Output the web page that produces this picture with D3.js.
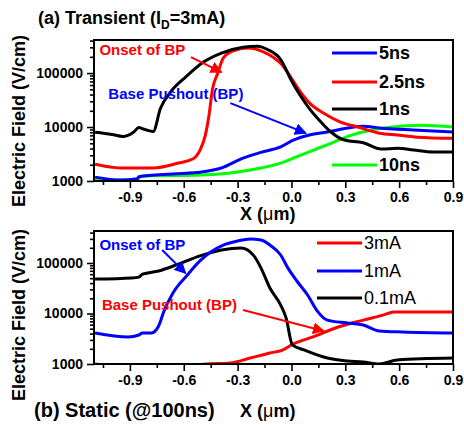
<!DOCTYPE html>
<html>
<head>
<meta charset="utf-8">
<script src="https://cdn.jsdelivr.net/npm/d3@7/dist/d3.min.js"></script>
<style>
  body { margin: 0; background: #fff; }
  text { font-family: Arial, "Liberation Sans", sans-serif; }
</style>
</head>
<body>
<svg id="chart" width="464" height="425"></svg>
<script>
// ---- data: [X (um), electric field (V/cm)] ----
var xTicks = [-0.9, -0.6, -0.3, 0.0, 0.3, 0.6, 0.9];
var xMinorTicks = [-1.05, -0.75, -0.45, -0.15, 0.15, 0.45, 0.75];
var yTicks = [1000, 10000, 100000];

// (a) transient, ID = 3mA
var transient5ns = [[-1.094,1180],[-0.95,1040],[-0.86,1100],[-0.85,1200],[-0.66,1350],[-0.5,1470],[-0.39,1740],[-0.27,2650],[-0.17,3400],[-0.06,4300],[0.01,5700],[0.1,7100],[0.2,8100],[0.33,9800],[0.4,10300],[0.49,9600],[0.68,8800],[0.9,8100]];
var transient2p5ns = [[-1.094,2050],[-1.0,1800],[-0.95,1740],[-0.77,1740],[-0.63,2150],[-0.55,2550],[-0.51,3700],[-0.48,7000],[-0.46,16000],[-0.44,50000],[-0.41,100000],[-0.38,190000],[-0.32,262000],[-0.24,290000],[-0.16,250000],[-0.1,195000],[-0.05,140000],[0.0,80000],[0.05,45000],[0.1,28000],[0.18,18000],[0.27,12500],[0.37,10000],[0.49,7700],[0.59,7100],[0.7,6500],[0.9,6200]];
var transient1ns = [[-1.094,8000],[-1.0,7300],[-0.94,6700],[-0.88,8000],[-0.85,9800],[-0.83,9300],[-0.77,8300],[-0.73,22000],[-0.67,46000],[-0.59,84000],[-0.49,160000],[-0.39,235000],[-0.27,300000],[-0.19,315000],[-0.13,270000],[-0.06,178000],[0.0,72000],[0.05,38000],[0.1,22000],[0.15,14000],[0.22,8100],[0.29,5800],[0.4,5100],[0.5,3900],[0.59,4050],[0.68,3750],[0.79,3450],[0.9,3450]];
var transient10ns = [[-1.094,1040],[-0.86,1040],[-0.84,1230],[-0.5,1290],[-0.34,1410],[-0.17,1740],[-0.06,2150],[0.01,2650],[0.12,3700],[0.22,5000],[0.33,7000],[0.44,8700],[0.55,9900],[0.72,10800],[0.9,10000]];

// (b) static @100ns
var static3mA = [[-1.094,1000],[-1.03,960],[-0.8,900],[-0.6,920],[-0.47,1000],[-0.34,1050],[-0.23,1310],[-0.12,1650],[-0.05,1890],[0.01,2490],[0.12,3430],[0.26,5400],[0.4,7400],[0.51,9300],[0.57,10700],[0.9,10700]];
var static1mA = [[-1.094,4100],[-0.91,3430],[-0.85,3750],[-0.83,4110],[-0.78,4110],[-0.74,5650],[-0.71,11200],[-0.66,25500],[-0.58,57800],[-0.51,110000],[-0.45,165000],[-0.38,227000],[-0.3,273000],[-0.23,299000],[-0.17,285000],[-0.12,227000],[-0.06,144000],[-0.02,80000],[0.03,44000],[0.09,23200],[0.14,11700],[0.2,7400],[0.31,6500],[0.4,5900],[0.49,4500],[0.62,4300],[0.9,4100]];
var static0p1mA = [[-1.094,48000],[-0.89,50500],[-0.85,52500],[-0.83,60000],[-0.74,69500],[-0.63,95000],[-0.51,138000],[-0.39,181000],[-0.28,198000],[-0.21,140000],[-0.17,80000],[-0.12,32000],[-0.06,14700],[-0.03,8200],[0.005,2400],[0.07,1900],[0.2,1310],[0.31,1150],[0.4,1100],[0.49,1000],[0.59,1200],[0.9,1310]];

// annotations: text anchor and arrow [from, to], data units
var annTransient = [
  {text: 'Onset of BP', color: '#ff0000', at: [-1.07, 215000], arrow: [[-0.56, 198000], [-0.39, 104000]]},
  {text: 'Base Pushout (BP)', color: '#0000ff', at: [-1.02, 33000], arrow: [[-0.34, 27800], [0.08, 7700]]}
];
var annStatic = [
  {text: 'Onset of BP', color: '#0000ff', at: [-1.07, 181000], arrow: [[-0.72, 181000], [-0.59, 63000]]},
  {text: 'Base Pushout (BP)', color: '#ff0000', at: [-1.056, 11700], arrow: [[-0.27, 11700], [0.18, 4500]]}
];

var left = 94, right = 453;
var svg = d3.select('#chart');

// arrow heads
var defs = svg.append('defs');
['#ff0000', '#0000ff'].forEach(function(c, i) {
  defs.append('marker')
    .attr('id', 'arrow' + i)
    .attr('viewBox', '0 0 10 10')
    .attr('refX', 9).attr('refY', 5)
    .attr('markerWidth', 6).attr('markerHeight', 6)
    .attr('markerUnits', 'strokeWidth')
    .attr('orient', 'auto')
    .append('path').attr('d', 'M0,0L10,5L0,10z').attr('fill', c);
});

function drawPanel(cfg) {
  var x = d3.scaleLinear().domain([-1.1, 0.9]).range([left, right]);
  var y = d3.scaleLog().domain([1000, cfg.yMax]).range([cfg.bottom, cfg.top]);
  var g = svg.append('g');

  defs.append('clipPath').attr('id', 'clip' + cfg.id)
    .append('rect')
    .attr('x', left).attr('y', cfg.top)
    .attr('width', right - left).attr('height', cfg.bottom - cfg.top);

  // x axis, major + minor
  g.append('g')
    .attr('transform', 'translate(0,' + cfg.bottom + ')')
    .call(d3.axisBottom(x).tickValues(xTicks).tickSize(7).tickPadding(4)
      .tickFormat(function(d) { return d.toFixed(1); }));
  g.append('g')
    .attr('transform', 'translate(0,' + cfg.bottom + ')')
    .call(d3.axisBottom(x).tickValues(xMinorTicks).tickSize(4).tickFormat(''));

  // y axis, major + minor (log)
  g.append('g')
    .attr('transform', 'translate(' + left + ',0)')
    .call(d3.axisLeft(y).tickValues(yTicks).tickSize(7).tickPadding(4)
      .tickFormat(function(d) { return String(d); }));
  var minorY = y.ticks().filter(function(d) { return yTicks.indexOf(d) < 0; });
  g.append('g')
    .attr('transform', 'translate(' + left + ',0)')
    .call(d3.axisLeft(y).tickValues(minorY).tickSize(4).tickFormat(''));

  g.selectAll('.domain').remove();
  g.selectAll('.tick line').attr('stroke', '#000').attr('stroke-width', 1.6);
  g.selectAll('.tick text')
    .attr('fill', '#000').attr('font-size', 14).attr('font-weight', 'bold');

  // curves
  var line = d3.line()
    .x(function(d) { return x(d[0]); })
    .y(function(d) { return y(d[1]); })
    .curve(d3.curveMonotoneX);
  cfg.series.forEach(function(s) {
    g.append('path')
      .datum(s.data)
      .attr('clip-path', 'url(#clip' + cfg.id + ')')
      .attr('d', line)
      .attr('fill', 'none')
      .attr('stroke', s.color)
      .attr('stroke-width', 3)
      .attr('stroke-linejoin', 'round');
  });

  // frame
  g.append('rect')
    .attr('x', left).attr('y', cfg.top)
    .attr('width', right - left).attr('height', cfg.bottom - cfg.top)
    .attr('fill', 'none').attr('stroke', '#000').attr('stroke-width', 2);

  // annotations
  cfg.notes.forEach(function(a) {
    g.append('text')
      .attr('x', x(a.at[0])).attr('y', y(a.at[1]))
      .attr('fill', a.color)
      .attr('font-size', 15).attr('font-weight', 'bold')
      .text(a.text);
    g.append('line')
      .attr('x1', x(a.arrow[0][0])).attr('y1', y(a.arrow[0][1]))
      .attr('x2', x(a.arrow[1][0])).attr('y2', y(a.arrow[1][1]))
      .attr('stroke', a.color).attr('stroke-width', 2)
      .attr('marker-end', 'url(#arrow' + (a.color === '#ff0000' ? 0 : 1) + ')');
  });

  // legend
  var lg = g.append('g');
  cfg.legend.forEach(function(l) {
    lg.append('line')
      .attr('x1', 332 + cfg.legendShift).attr('x2', 377 + cfg.legendShift)
      .attr('y1', l.y).attr('y2', l.y)
      .attr('stroke', l.color).attr('stroke-width', 3);
    lg.append('text')
      .attr('x', 379 + cfg.legendShift).attr('y', l.y)
      .attr('dy', '0.36em')
      .attr('font-size', 18).attr('font-weight', cfg.legendWeight)
      .attr('fill', '#000')
      .text(l.label);
  });

  // y label
  g.append('text')
    .attr('transform', 'translate(19,' + cfg.yLabelY + ') rotate(-90)')
    .attr('text-anchor', 'middle').attr('dy', '0.36em')
    .attr('font-size', 18).attr('font-weight', 'bold')
    .text('Electric Field (V/cm)');

  // x label
  var xl = g.append('text')
    .attr('x', 240).attr('y', cfg.xLabelY)
    .attr('font-size', 18).attr('font-weight', 'bold');
  xl.append('tspan').text('X (');
  xl.append('tspan').attr('font-weight', 'normal').text('\u03bc');
  xl.append('tspan').text('m)');
}

drawPanel({
  id: 'a', top: 40, bottom: 181, yMax: 4.1e5, yLabelY: 121, xLabelY: 220,
  legendShift: 0, legendWeight: 'bold',
  series: [
    {data: transient10ns, color: '#00ff00'},
    {data: transient5ns, color: '#0000ff'},
    {data: transient2p5ns, color: '#ff0000'},
    {data: transient1ns, color: '#000000'}
  ],
  legend: [
    {label: '5ns', color: '#0000ff', y: 53},
    {label: '2.5ns', color: '#ff0000', y: 82},
    {label: '1ns', color: '#000000', y: 109},
    {label: '10ns', color: '#00ff00', y: 165}
  ],
  notes: annTransient
});

drawPanel({
  id: 'b', top: 231, bottom: 364, yMax: 4.3e5, yLabelY: 315, xLabelY: 417,
  legendShift: -15, legendWeight: 'normal',
  series: [
    {data: static3mA, color: '#ff0000'},
    {data: static0p1mA, color: '#000000'},
    {data: static1mA, color: '#0000ff'}
  ],
  legend: [
    {label: '3mA', color: '#ff0000', y: 243},
    {label: '1mA', color: '#0000ff', y: 271},
    {label: '0.1mA', color: '#000000', y: 298}
  ],
  notes: annStatic
});

// panel titles
var t = svg.append('text')
  .attr('x', 38).attr('y', 24)
  .attr('font-size', 18).attr('font-weight', 'bold');
t.append('tspan').text('(a) Transient (I');
t.append('tspan').attr('font-size', 12).attr('dy', 5).text('D');
t.append('tspan').attr('dy', -5).text('=3mA)');

svg.append('text')
  .attr('x', 34).attr('y', 417)
  .attr('font-size', 20).attr('font-weight', 'bold')
  .text('(b) Static (@100ns)');
</script>
</body>
</html>
